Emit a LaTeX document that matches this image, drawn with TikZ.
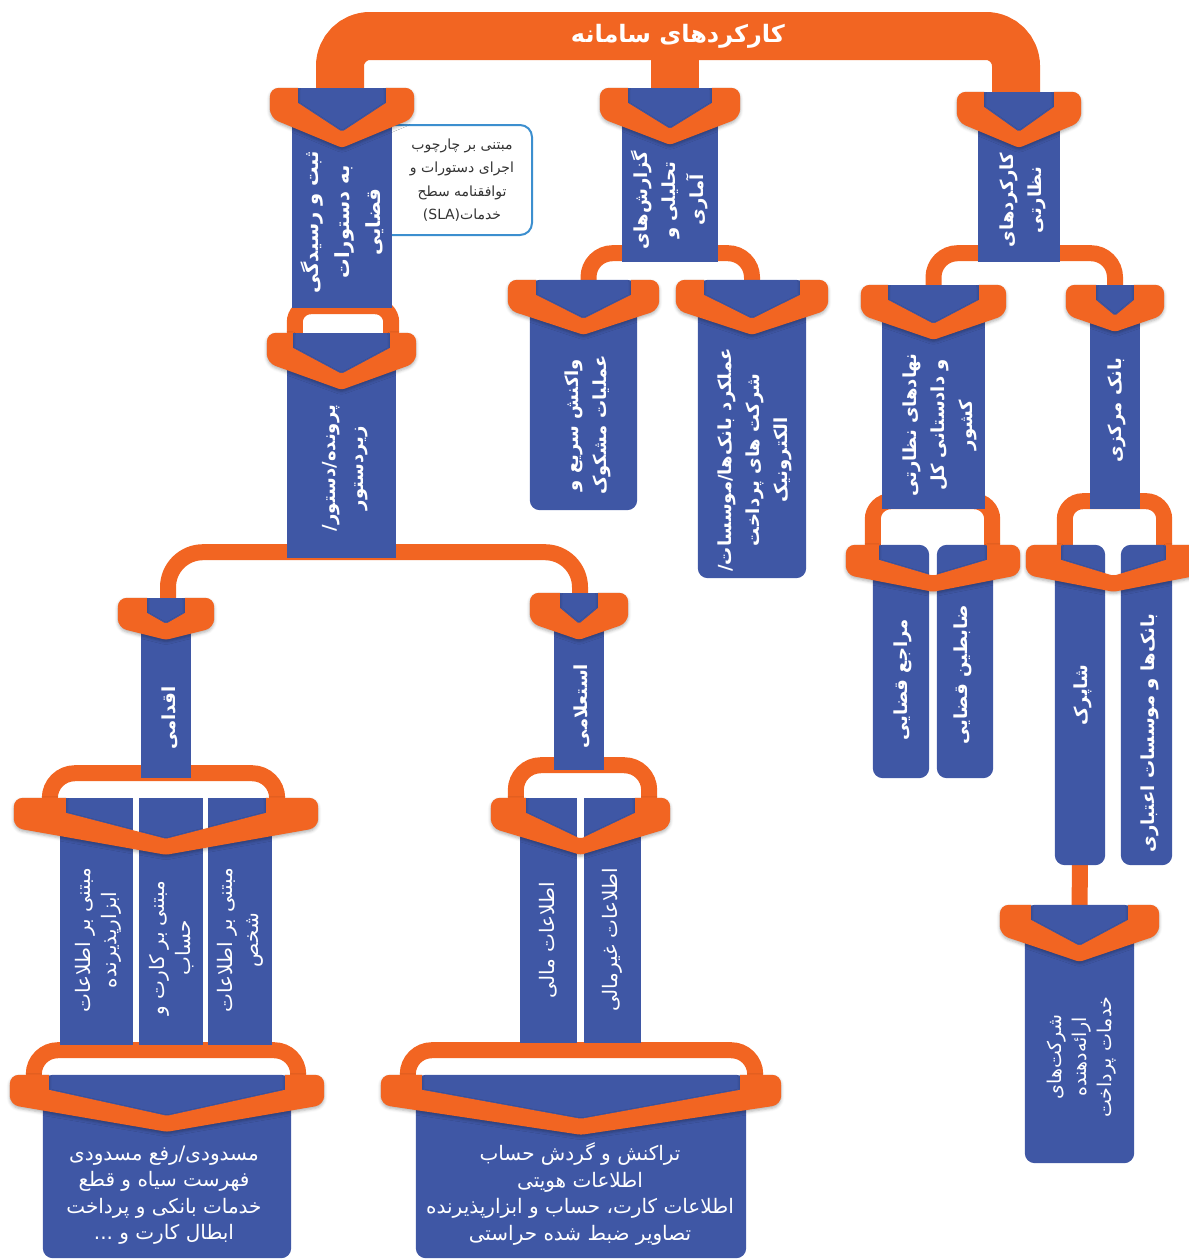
\documentclass[tikz,border=0pt]{standalone}
\usepackage{fontspec}
\newfontfamily\fa[Script=Arabic]{DejaVu Sans}
\TeXXeTstate=1
\usetikzlibrary{calc, shadows.blur}
\definecolor{sysOrange}{HTML}{F26522}
\definecolor{sysBlue}{HTML}{3F57A5}
\definecolor{sysNote}{HTML}{3C8FCF}
\definecolor{sysInk}{HTML}{333333}

\newcommand\R[1]{\beginR#1\endR}
% orange chevron over the top of one box, or over a row of boxes
\newcommand\chev[4]{%
  \fill[tip] let \p1=(#1.north west), \p2=(#2.north east), \p3=($(\p1)!.5!(\p2)$) in
    [rounded corners=9pt] (\x1-#3,\y1) [sharp corners] -- (\x1+6,\y1) -- (\x1+6,\y1-15)
    [rounded corners=2pt] -- (\x3,\y1-12-#4) [sharp corners] -- (\x2-6,\y1-15) -- (\x2-6,\y1)
    [rounded corners=9pt] -- (\x2+#3,\y1) -- (\x2+#3,\y1-30)
    [rounded corners=3pt] -- (\x3,\y1-28-#4)
    [rounded corners=9pt] -- (\x1-#3,\y1-30) -- cycle;
}

\begin{document}
\begin{tikzpicture}[x=1pt, y=-1pt,
  slot/.style={inner sep=0pt},
  tip/.style={fill=sysOrange, blur shadow={shadow xshift=0pt, shadow yshift=-2pt,
              shadow blur radius=3pt, shadow opacity=30}},
  trunk/.style={draw=sysOrange, line width=48pt, rounded corners=30pt},
  link/.style={draw=sysOrange, line width=16pt, rounded corners=#1},
  link/.default=22pt,
  lbl/.style={rotate=90, text=white, align=center, font=\fa\bfseries\fontsize{18}{28}\selectfont},
  lbn/.style={rotate=90, text=white, align=center, font=\fa\fontsize{20}{26}\selectfont},
  flat/.style={text=white, align=center, font=\fa\fontsize{20}{26.5}\selectfont},
  note/.style={draw=sysNote, fill=white, line width=2pt, rounded corners=12pt},
  notetxt/.style={text=sysInk, align=center, font=\fa\fontsize{14}{23.5}\selectfont},
  ttl/.style={text=white, font=\fa\bfseries\fontsize{24}{28}\selectfont}
]
  \useasboundingbox (0,0) rectangle (1189,1259);

  % box slots
  \node[slot, minimum width=100, minimum height=220] (b1) at (342,198) {};
  \node[slot, minimum width=96, minimum height=174] (b2) at (670,175) {};
  \node[slot, minimum width=82, minimum height=170] (b3) at (1019,177) {};
  \node[slot, minimum width=107, minimum height=230] (b4) at (583.5,395) {};
  \node[slot, minimum width=108, minimum height=298] (b5) at (752,429) {};
  \node[slot, minimum width=103, minimum height=224] (b6) at (933.5,397) {};
  \node[slot, minimum width=50, minimum height=224] (b7) at (1115,397) {};
  \node[slot, minimum width=109, minimum height=225] (pro) at (341.5,445.5) {};
  \node[slot, minimum width=56, minimum height=233] (mr) at (901,661.5) {};
  \node[slot, minimum width=56, minimum height=233] (zb) at (965,661.5) {};
  \node[slot, minimum width=50, minimum height=320] (sh) at (1080,705) {};
  \node[slot, minimum width=51, minimum height=320] (bk) at (1146.5,705) {};
  \node[slot, minimum width=109, minimum height=258] (pay) at (1079.5,1034) {};
  \node[slot, minimum width=50, minimum height=180] (aq) at (166,688) {};
  \node[slot, minimum width=50, minimum height=177] (es) at (579,681.5) {};
  \node[slot, minimum width=73, minimum height=247] (ta) at (96.5,921.5) {};
  \node[slot, minimum width=64, minimum height=247] (tb) at (171,921.5) {};
  \node[slot, minimum width=64, minimum height=247] (tc) at (240,921.5) {};
  \node[slot, minimum width=57, minimum height=245] (ma) at (548.5,920.5) {};
  \node[slot, minimum width=57, minimum height=245] (mb) at (612.5,920.5) {};
  \node[slot, minimum width=248, minimum height=183] (bl) at (167,1166.5) {};
  \node[slot, minimum width=330, minimum height=183] (br) at (581,1166.5) {};
  \coordinate (hub) at (678,36);

  \node[note, minimum width=152, minimum height=110] (sla) at (456,180) {};

  % orange links
  \draw[trunk] ($(b1.north)+(-2,14)$) |- (hub) -| ($(b3.north)+(-3,10)$);
  \draw[trunk, sharp corners] ($(b2.north)+(5,14)$) -- ($(b2.north |- hub)+(5,0)$);
  \draw[link=24pt] ($(b4.north)+(5,12)$) |- ($(b2.south)+(0,-9)$) -| ($(b5.north)+(0,12)$);
  \draw[link=24pt] ($(b6.north)+(0,12)$) |- ($(b3.south)+(0,-9)$) -| ($(b7.north)+(0,12)$);
  \draw[link=16pt] ($(pro.north west)+(8,12)$) |- ($(b1.south)+(0,-2)$) -| ($(pro.north east)+(-5,12)$);
  \draw[link=35pt] ($(aq.north)+(2,12)$) |- ($(pro.south)+(0,-6)$) -| ($(es.north)+(1,12)$);
  \draw[link=25pt] ($(ta.north west)+(-10,18)$) |- ($(aq.south)+(0,-5)$) -| ($(tc.north east)+(5,18)$);
  \draw[link=25pt] ($(ma.north west)+(-4,18)$) |- ($(es.south)+(0,-5)$) -| ($(mb.north east)+(8,18)$);
  \draw[link=24pt] ($(bl.north west)+(-9,20)$) |- ($(tb.south)+(0,5)$) -| ($(bl.north east)+(7,20)$);
  \draw[link=24pt] ($(br.north west)+(-8,20)$) |- ($(ma.south)+(0,7)$) -| ($(br.north east)+(9,20)$);
  \draw[link=18pt] ($(mr.north west)+(0,12)$) |- ($(b6.south)+(0,-8)$) -| ($(zb.north east)+(-1,12)$);
  \draw[link=18pt] ($(sh.north west)+(10,12)$) |- ($(b7.south)+(0,-8)$) -| ($(bk.north east)+(-8,12)$);
  \draw[link] ($(sh.south)+(0,-10)$) -- ($(pay.north)+(0,12)$);

  % blue boxes
  \foreach \n in {b1,b2,b3,b6,b7,pro,aq,es,ta,tb,tc,ma,mb}
    \fill[sysBlue] (\n.south west) rectangle (\n.north east);
  \foreach \n in {b4,b5,mr,zb,sh,bk,pay,bl,br}
    \fill[sysBlue, rounded corners=10pt] (\n.south west) rectangle (\n.north east);

  % chevrons
  \chev{b1}{b1}{22}{32}
  \chev{b2}{b2}{22}{29}
  \chev{b3}{b3}{21}{28}
  \chev{b4}{b4}{22}{27}
  \chev{b5}{b5}{22}{27}
  \chev{b6}{b6}{21}{27}
  \chev{b7}{b7}{24}{19}
  \chev{pro}{pro}{20}{29}
  \chev{mr}{zb}{27}{19}
  \chev{sh}{bk}{29}{19}
  \chev{pay}{pay}{25}{29}
  \chev{aq}{aq}{23}{14}
  \chev{es}{es}{24}{19}
  \chev{ta}{tc}{46}{29}
  \chev{ma}{mb}{29}{29}
  \chev{bl}{bl}{33}{29}
  \chev{br}{br}{35}{32}

  % texts
  \node[ttl] (title) at (hub) {\R{کارکردهای سامانه}};
  \node[notetxt] (slatxt) at (462,180) {\R{مبتنی بر چارچوب}\\\R{اجرای دستورات و}\\\R{توافقنامه سطح}\\\beginL(SLA)\R{خدمات}\endL};
  \node[lbl, font=\fa\bfseries\fontsize{19.5}{31}\selectfont] (t1) at (342,222) {\R{ثبت و رسیدگی}\\\R{به دستورات}\\\R{قضایی}};
  \node[lbl] (t2) at (670,200) {\R{گزارش^^^^200cهای}\\\R{تحلیلی و}\\\R{آماری}};
  \node[lbl] (t3) at (1023,200) {\R{کارکردهای}\\\R{نظارتی}};
  \node[lbl] (t4) at (588,425) {\R{واکنش سریع و}\\\R{عملیات مشکوک}};
  \node[lbl] (t5) at (755,460) {\R{عملکرد بانک^^^^200cها/موسسات/}\\\R{شرکت های پرداخت}\\\R{الکترونیک}};
  \node[lbl] (t6) at (940,425) {\R{نهادهای نظارتی}\\\R{و دادستانی کل}\\\R{کشور}};
  \node[lbl] (t7) at (1117,410) {\R{بانک مرکزی}};
  \node[lbl] (tpro) at (345,468) {\R{پرونده/دستور/}\\\R{زیردستور}};
  \node[lbl] (tmr) at (903,680) {\R{مراجع قضایی}};
  \node[lbl] (tzb) at (963,675) {\R{ضابطین قضایی}};
  \node[lbl] (tsh) at (1083,695) {\R{شاپرک}};
  \node[lbl] (tbk) at (1150,733) {\R{بانک^^^^200cها و موسسات اعتباری}};
  \node[lbn, font=\fa\fontsize{19}{25}\selectfont] (tpay) at (1082,1057) {\R{شرکت^^^^200cهای}\\\R{ارائه^^^^200cدهنده}\\\R{خدمات پرداخت}};
  \node[lbl] (taq) at (170,718) {\R{اقدامی}};
  \node[lbl] (tes) at (582,706) {\R{استعلامی}};
  \node[lbn] (tta) at (98,940) {\R{مبتنی بر اطلاعات}\\\R{ابزارپذیرنده}};
  \node[lbn] (ttb) at (172,948) {\R{مبتنی بر کارت و}\\\R{حساب}};
  \node[lbn] (ttc) at (240,940) {\R{مبتنی بر اطلاعات}\\\R{شخص}};
  \node[lbn] (tma) at (548,940) {\R{اطلاعات مالی}};
  \node[lbn] (tmb) at (612,940) {\R{اطلاعات غیرمالی}};
  \node[flat] (tbl) at (164,1195) {\R{مسدودی/رفع مسدودی}\\\R{فهرست سیاه و قطع}\\\R{خدمات بانکی و پرداخت}\\\R{ابطال کارت و ...}};
  \node[flat] (tbr) at (580,1194) {\R{تراکنش و گردش حساب}\\\R{اطلاعات هویتی}\\\R{اطلاعات کارت، حساب و ابزارپذیرنده}\\\R{تصاویر ضبط شده حراستی}};
\end{tikzpicture}
\end{document}
